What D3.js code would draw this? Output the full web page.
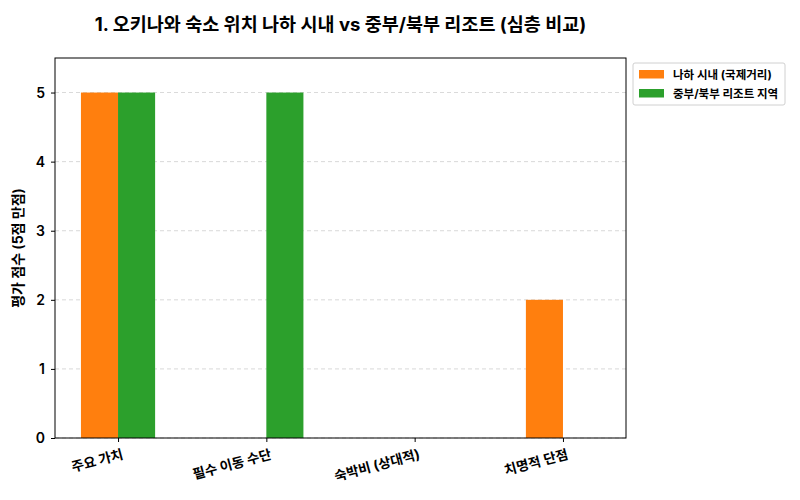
<!DOCTYPE html>
<html><head><meta charset="utf-8">
<script src="https://cdn.jsdelivr.net/npm/d3@7/dist/d3.min.js"></script>
<style>body{margin:0;background:#fff;} text{font-family:Inter,"Noto Sans CJK KR","Noto Sans",sans-serif;}</style>
</head><body>
<svg id="c" width="800" height="500"></svg>
<script>
const categories = ["주요 가치", "필수 이동 수단", "숙박비 (상대적)", "치명적 단점"];
const seriesNames = ["나하 시내 (국제거리)", "중부/북부 리조트 지역"];
const nahaValues = [5, 0, 0, 2];
const resortValues = [5, 5, 0, 0];
const colors = ["#ff7f0e", "#2ca02c"];
const yTicks = [0, 1, 2, 3, 4, 5];
const title = "1. 오키나와 숙소 위치 나하 시내 vs 중부/북부 리조트 (심층 비교)";
const yLabel = "평가 점수 (5점 만점)";

const svg = d3.select("#c");
const L = 55, R = 626, T = 58, B = 438;
const x = d3.scaleLinear().domain([-0.425, categories.length - 1 + 0.425]).range([L, R]);
const y = d3.scaleLinear().domain([0, 5.5]).range([B, T]);
const barW = 0.25;

// grid
svg.append("g").selectAll("line").data(yTicks).join("line")
  .attr("x1", L).attr("x2", R).attr("y1", d => y(d)).attr("y2", d => y(d))
  .attr("stroke", "#b0b0b0").attr("stroke-dasharray", "4,3").attr("stroke-width", 0.8).attr("opacity", 0.6);

const series = [nahaValues, resortValues];
series.forEach((vals, si) => {
  svg.append("g").selectAll("rect").data(vals).join("rect")
    .attr("x", (d, i) => x(i + (si === 0 ? -barW : 0)))
    .attr("width", x(barW) - x(0))
    .attr("y", d => y(d))
    .attr("height", d => y(0) - y(d))
    .attr("fill", colors[si]);
});

// frame
svg.append("rect").attr("x", L).attr("y", T).attr("width", R - L).attr("height", B - T)
  .attr("fill", "none").attr("stroke", "#000").attr("stroke-width", 1);

// y axis
const ya = svg.append("g").attr("transform", `translate(${L},0)`)
  .call(d3.axisLeft(y).tickValues(yTicks).tickFormat(d3.format("d")).tickSize(4).tickPadding(6));
ya.select(".domain").remove();
ya.selectAll("text").attr("font-size", 14).attr("font-weight", "600").attr("fill", "#000");

// x axis
const xa = svg.append("g").attr("transform", `translate(0,${B})`)
  .call(d3.axisBottom(x).tickValues(d3.range(categories.length)).tickFormat(i => categories[i]).tickSize(4).tickPadding(5));
xa.select(".domain").remove();
xa.selectAll("text").attr("font-size", 13.5).attr("font-weight", "bold").attr("fill", "#000")
  .attr("text-anchor", "end").attr("dy", "0.9em")
  .attr("transform", "rotate(-15)");

// title
svg.append("text").attr("x", (L + R) / 2).attr("y", 31).attr("text-anchor", "middle")
  .attr("font-size", 18.5).attr("font-weight", "bold").text(title);

// y label
svg.append("text").attr("transform", `translate(23,${(T + B) / 2}) rotate(-90)`)
  .attr("text-anchor", "middle").attr("font-size", 14).attr("font-weight", "bold").text(yLabel);

// legend
const lg = svg.append("g").attr("transform", "translate(633,63)");
lg.append("rect").attr("width", 152).attr("height", 42).attr("rx", 2)
  .attr("fill", "#fff").attr("stroke", "#d0d0d0").attr("stroke-width", 1);
seriesNames.forEach((n, i) => {
  lg.append("rect").attr("x", 6).attr("y", 7 + i * 19).attr("width", 25).attr("height", 8.5).attr("fill", colors[i]);
  lg.append("text").attr("x", 40).attr("y", 15.5 + i * 19).attr("font-size", 11.5).attr("font-weight", "bold").text(n);
});
</script>
</body></html>
